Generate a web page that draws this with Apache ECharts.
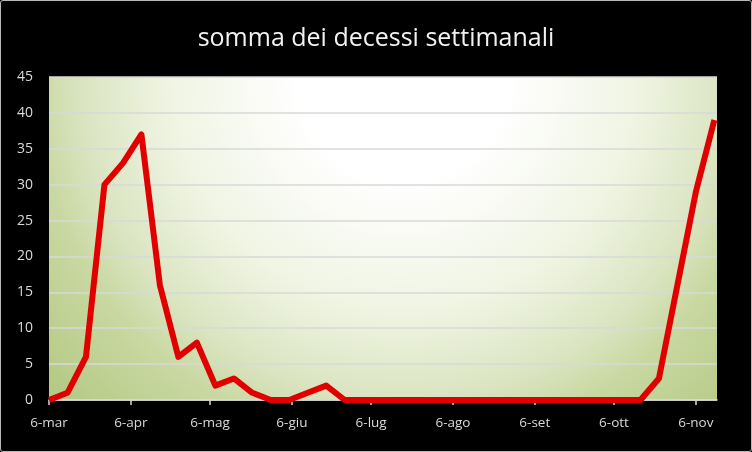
<!DOCTYPE html>
<html>
<head>
<meta charset="utf-8">
<script src="https://cdn.jsdelivr.net/npm/echarts@6/dist/echarts.min.js"></script>
<style>
html,body{margin:0;padding:0;background:#fff;}
#wrap{position:relative;width:752px;height:452px;}
#chart{width:752px;height:452px;}
#frame{position:absolute;left:0;top:0;width:752px;height:452px;box-sizing:border-box;border:1px solid #b8b8b8;border-radius:3px;pointer-events:none;}
</style>
</head>
<body>
<div id="wrap"><div id="chart"></div><div id="frame"></div></div>
<script>
const weekDates = [
  '2020-03-06','2020-03-13','2020-03-20','2020-03-27',
  '2020-04-03','2020-04-10','2020-04-17','2020-04-24',
  '2020-05-01','2020-05-08','2020-05-15','2020-05-22','2020-05-29',
  '2020-06-05','2020-06-12','2020-06-19','2020-06-26',
  '2020-07-03','2020-07-10','2020-07-17','2020-07-24','2020-07-31',
  '2020-08-07','2020-08-14','2020-08-21','2020-08-28',
  '2020-09-04','2020-09-11','2020-09-18','2020-09-25',
  '2020-10-02','2020-10-09','2020-10-16','2020-10-23','2020-10-30',
  '2020-11-06','2020-11-13'
];
const weeklyDeaths = [
  0, 1, 6, 30,
  33, 37, 16, 6,
  8, 2, 3, 1, 0,
  0, 1, 2, 0,
  0, 0, 0, 0, 0,
  0, 0, 0, 0,
  0, 0, 0, 0,
  0, 0, 0, 3, 16,
  29, 39
];
const tickDates = ['2020-03-06','2020-04-06','2020-05-06','2020-06-06','2020-07-06','2020-08-06','2020-09-06','2020-10-06','2020-11-06'];
const tickLabels = ['6-mar','6-apr','6-mag','6-giu','6-lug','6-ago','6-set','6-ott','6-nov'];
const axisStart = '2020-03-06';
const axisEnd = '2020-11-14';
const yTicks = [0,5,10,15,20,25,30,35,40,45];

function ts(s){ const p = s.split('-').map(Number); return Date.UTC(p[0], p[1]-1, p[2]); }
const tickTs = tickDates.map(ts);

const chart = echarts.init(document.getElementById('chart'));
chart.setOption({
  backgroundColor: '#000',
  animation: false,
  title: {
    text: 'somma dei decessi settimanali',
    left: 'center',
    top: 21,
    textStyle: { color: '#f2f2f2', fontSize: 25, fontWeight: 'normal', fontFamily: 'Open Sans' }
  },
  grid: {
    left: 49, right: 35, top: 77, bottom: 52,
    show: true,
    borderWidth: 0,
    backgroundColor: new echarts.graphic.RadialGradient(0.53, 0, 1.47, [
      { offset: 0, color: '#ffffff' },
      { offset: 0.22, color: '#ffffff' },
      { offset: 0.5, color: '#eff4e2' },
      { offset: 0.68, color: '#dae4c0' },
      { offset: 0.78, color: '#c8d8a1' },
      { offset: 1, color: '#b4c984' }
    ])
  },
  xAxis: {
    type: 'value',
    min: ts(axisStart),
    max: ts(axisEnd),
    splitLine: { show: false },
    axisLine: { show: true, lineStyle: { color: '#d9d9d9', width: 1.5 } },
    axisTick: { show: true, customValues: tickTs, length: 5, inside: false, lineStyle: { color: '#d9d9d9', width: 1.5 } },
    axisLabel: {
      customValues: tickTs,
      color: '#d9d9d9',
      fontSize: 13.5,
      fontFamily: 'Open Sans',
      margin: 16,
      formatter: function (v) {
        const i = tickTs.indexOf(v);
        return i >= 0 ? tickLabels[i] : '';
      }
    }
  },
  yAxis: {
    type: 'value',
    min: yTicks[0],
    max: yTicks[yTicks.length - 1],
    interval: 5,
    axisLine: { show: false },
    axisTick: { show: false },
    axisLabel: { color: '#d9d9d9', fontSize: 14, fontFamily: 'Open Sans', margin: 16 },
    splitLine: { show: true, lineStyle: { color: '#d9d9d9', width: 1.5 } }
  },
  series: [{
    type: 'line',
    data: weekDates.map((d, i) => [ts(d), weeklyDeaths[i]]),
    showSymbol: false,
    symbol: 'none',
    lineStyle: { color: '#e00000', width: 6, join: 'round' },
    itemStyle: { color: '#e00000' }
  }]
});
</script>
</body>
</html>
